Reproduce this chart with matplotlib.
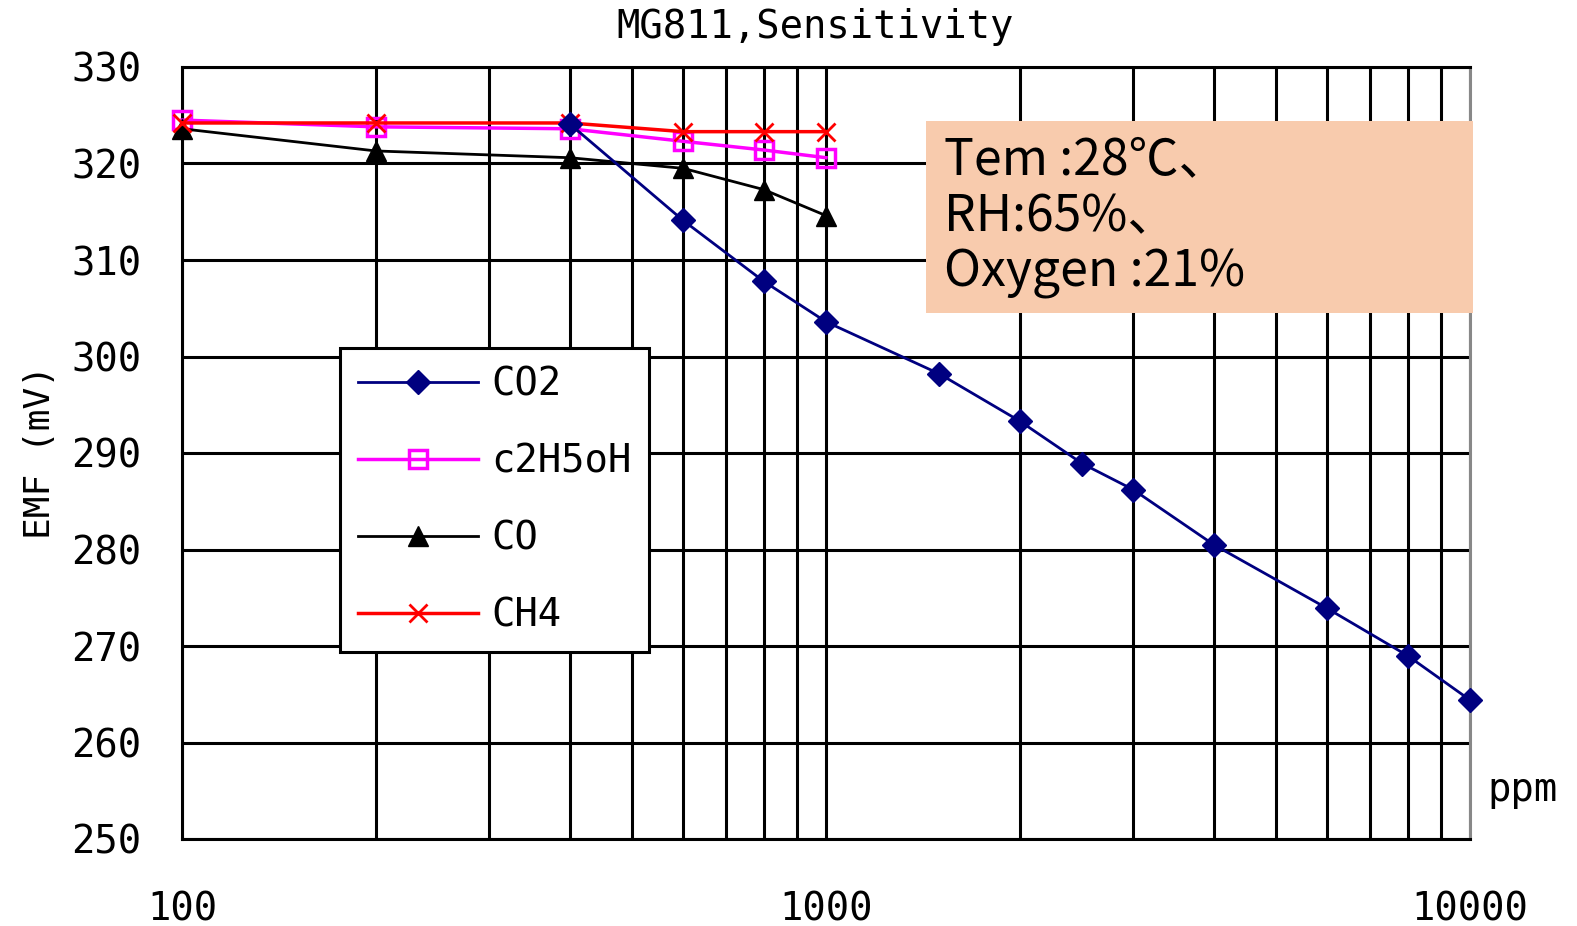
import matplotlib
matplotlib.use("Agg")
import matplotlib.pyplot as plt
from matplotlib.patches import Rectangle
from matplotlib.ticker import FixedLocator, FixedFormatter, NullFormatter, LogLocator

# concentrations (ppm) and EMF readings (mV)
co2_ppm = [400, 600, 800, 1000, 1500, 2000, 2500, 3000, 4000, 6000, 8000, 10000]
co2_mv = [324.1, 314.1, 307.8, 303.6, 298.2, 293.3, 288.9, 286.2, 280.5, 273.9, 269.0, 264.4]

gas_ppm = [100, 200, 400, 600, 800, 1000]
c2h5oh_mv = [324.5, 323.8, 323.6, 322.3, 321.4, 320.6]
co_mv = [323.6, 321.3, 320.6, 319.5, 317.3, 314.6]
ch4_mv = [324.2, 324.2, 324.2, 323.3, 323.3, 323.3]

y_ticks = [250, 260, 270, 280, 290, 300, 310, 320, 330]
x_ticks = [100, 1000, 10000]
x_ticklabels = ["100", "1000", "10000"]

notes = ["Tem :28℃、", "RH:65%、", "Oxygen :21%"]

mono = "DejaVu Sans Mono"
cjk = ["Noto Sans CJK JP", "DejaVu Sans"]

fig = plt.figure(figsize=(15.77, 9.26), dpi=100)
ax = fig.add_axes([182 / 1577, 1 - 839 / 926, (1470 - 182) / 1577, (839 - 67) / 926])

ax.plot(co2_ppm, co2_mv, color="#000080", lw=2, marker="D", ms=12, label="CO2",
        zorder=5, clip_on=False)
ax.plot(gas_ppm, c2h5oh_mv, color="#ff00ff", lw=2.5, marker="s", ms=13,
        mfc="none", mew=2.5, label="c2H5oH", zorder=3, clip_on=False)
ax.plot(gas_ppm, co_mv, color="black", lw=2, marker="^", ms=15, label="CO", zorder=4,
        clip_on=False)
ax.plot(gas_ppm, ch4_mv, color="red", lw=2.5, marker="x", ms=13, mew=2, label="CH4",
        zorder=4, clip_on=False)

ax.set_xscale("log")
ax.set_xlim(100, 10000)
ax.set_ylim(250, 330)
ax.set_yticks(y_ticks)
ax.xaxis.set_major_locator(FixedLocator(x_ticks))
ax.xaxis.set_major_formatter(FixedFormatter(x_ticklabels))
ax.xaxis.set_minor_locator(LogLocator(base=10, subs=range(2, 10)))
ax.xaxis.set_minor_formatter(NullFormatter())

ax.tick_params(which="both", length=0)
ax.tick_params(axis="y", pad=29, labelsize=28)
ax.tick_params(axis="x", pad=37, labelsize=28)
for lab in ax.get_xticklabels() + ax.get_yticklabels():
    lab.set_family(mono)

ax.set_axisbelow(True)
ax.grid(which="major", color="black", lw=2.2)
ax.grid(which="minor", axis="x", color="black", lw=2.2)
for side in ["left", "bottom", "top"]:
    ax.spines[side].set_linewidth(2.2)
    ax.spines[side].set_color("black")
ax.spines["right"].set_color("#888888")
ax.spines["right"].set_linewidth(2.2)

leg = ax.legend(loc="upper left", bbox_to_anchor=(0.1227, 0.636), borderaxespad=0,
                prop={"family": mono, "size": 28}, fancybox=False, framealpha=1,
                edgecolor="black", handlelength=3.1, handletextpad=0.35,
                labelspacing=1.0, borderpad=0.45)
leg.get_frame().set_linewidth(2.2)
leg.set_zorder(10)

# condition box
ax.add_patch(Rectangle((0.578, 0.681), 0.424, 0.249, transform=ax.transAxes,
                       facecolor="#f8cbad", edgecolor="none", clip_on=False, zorder=11))
for i, t in enumerate(notes):
    ax.text(0.5916, [0.8795, 0.8057, 0.7332][i], t, transform=ax.transAxes,
            family=cjk, fontsize=36, va="center", ha="left", zorder=12)

fig.text(815 / 1577, 1 - 27 / 926, "MG811,Sensitivity", family=mono, fontsize=28,
         ha="center", va="center")
fig.text(40 / 1577, 1 - 452 / 926, "EMF (mV)", family=mono, fontsize=26,
         rotation=90, ha="center", va="center")
fig.text(1522 / 1577, 1 - 790 / 926, "ppm", family=mono, fontsize=28,
         ha="center", va="center")

fig.savefig("out.png", dpi=100)
